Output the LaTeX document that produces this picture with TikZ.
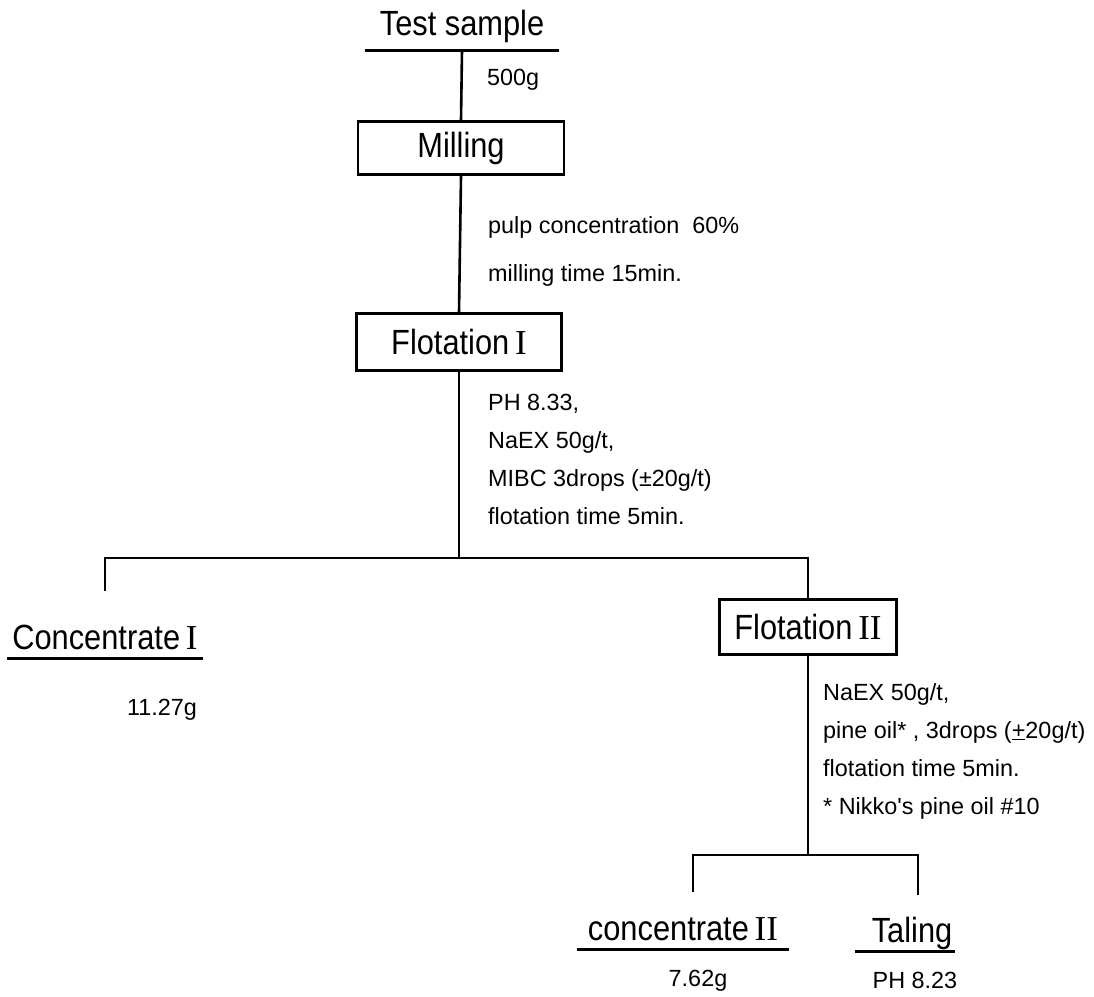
\documentclass[tikz,border=0pt]{standalone}
\usepackage{fontspec}
\setmainfont{Liberation Sans}
\newfontfamily\bigfont{Liberation Sans}[FakeStretch=0.88]
\newfontfamily\romfont{Liberation Serif}
\usetikzlibrary{positioning}
\newcommand{\bigsize}{\bigfont\fontsize{35}{41}\selectfont}
\newcommand{\notesize}{\fontsize{23.4}{28}\selectfont}
\newcommand{\RomI}{{\romfont I}}
\newcommand{\RomII}{{\romfont II}}
\tikzset{stage/.style={draw,rectangle,line width=2.6pt,minimum width=#1,
minimum height=55pt,inner sep=0pt,font=\bigsize},
product/.style={inner xsep=#1,inner ysep=0pt,text height=25pt,text depth=9pt,
anchor=base,font=\bigsize},
note/.style={anchor=base west,inner sep=0pt,font=\notesize},
link/.style={line width=2.6pt}}

\begin{document}
\begin{tikzpicture}[x=1pt,y=-1pt]
    \useasboundingbox (0,0) rectangle (1094,996);
    % feed and milling
    \node[product=15pt,text depth=15pt] (sample) at (462,35) {Test sample};
    \node[note] (mass) at (487,85) {500g};
    \node[stage=206pt,minimum height=53pt] (milling) at (461,148) {Milling};
    \node[note] (pulp) at (488,233) {pulp concentration\ \ 60\%};
    \node[note] (mtime) at (488,281) {milling time 15min.};
    % first flotation
    \node[stage=205pt,minimum height=57pt] (flot-a) at (459,342) {Flotation\,\RomI};
    \node[note] (ph-a) at (488,410) {PH 8.33,};
    \node[note] (naex-a) at (488,448) {NaEX 50g/t,};
    \node[note] (mibc) at (488,486) {MIBC 3drops (\textpm20g/t)};
    \node[note] (ftime-a) at (488,524) {flotation time 5min.};
    \coordinate (split-a) at (459,558);
    \coordinate (drop-a) at (105,591);
    % concentrate I
    \node[product=5pt] (conc-a) at (105,649) {Concentrate\,\RomI};
    \node[note,anchor=base] (mass-a) at (162,715) {11.27g};
    % second flotation
    \node[stage=177pt] (flot-b) at (808,627) {Flotation\,\RomII};
    \node[note] (naex-b) at (823,700) {NaEX 50g/t,};
    \node[note] (pine) at (823,738) {pine oil* , 3drops (\underline{+}20g/t)};
    \node[note] (ftime-b) at (823,776) {flotation time 5min.};
    \node[note] (nikko) at (823,814) {* Nikko\textquotesingle s pine oil \#10};
    \coordinate (split-b) at (808,855);
    \coordinate (drop-b) at (693,892);
    \coordinate (drop-c) at (918,895);
    % products
    \node[product=11pt] (conc-b) at (683,940) {concentrate\,\RomII};
    \node[note,anchor=base] (mass-b) at (698,986) {7.62g};
    \node[product=10pt] (tail) at (912,942) {Taling};
    \node[note,anchor=base] (ph-b) at (915,988) {PH 8.23};
    % underlines
    \draw[link] (sample.south west) -- (sample.south east);
    \draw[link] (conc-a.south west) -- (conc-a.south east);
    \draw[link] (conc-b.south west) -- (conc-b.south east);
    \draw[link] ([xshift=-7pt]tail.south west) -- ([xshift=-7pt]tail.south east);
    % links
    \draw[link] (sample.south) -- (milling.north);
    \draw[link] (milling.south) -- (flot-a.north);
    \draw[link] (flot-a.south) -- (split-a);
    \draw[link] (drop-a) |- (split-a) -| (flot-b.north);
    \draw[link] (flot-b.south) -- (split-b);
    \draw[link] (drop-b) |- (split-b) -| (drop-c);
\end{tikzpicture}
\end{document}
